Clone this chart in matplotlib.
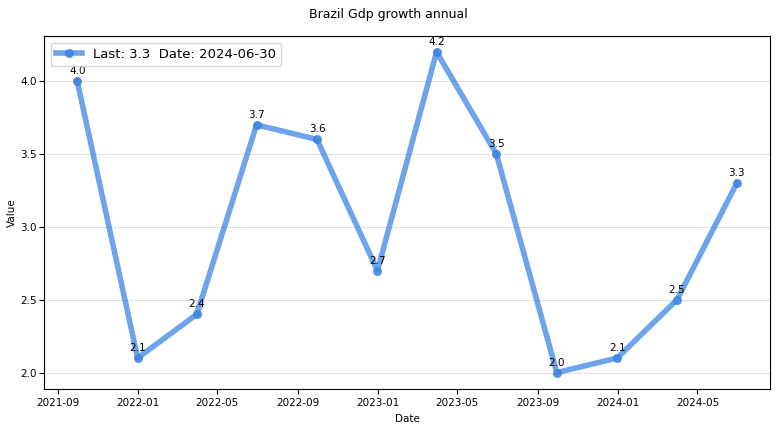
import matplotlib
matplotlib.use("Agg")
import matplotlib.pyplot as plt
import pandas as pd

dates = pd.to_datetime(["2021-09-30", "2021-12-31", "2022-03-31", "2022-06-30",
                        "2022-09-30", "2022-12-31", "2023-03-31", "2023-06-30",
                        "2023-09-30", "2023-12-31", "2024-03-31", "2024-06-30"])
values = [4.0, 2.1, 2.4, 3.7, 3.6, 2.7, 4.2, 3.5, 2.0, 2.1, 2.5, 3.3]
title = "Brazil Gdp growth annual"

fig, ax = plt.subplots(figsize=(7.76, 4.28), dpi=100)
fig.subplots_adjust(left=0.057, right=0.992, top=0.916, bottom=0.092)

label = "Last: %.1f  Date: %s" % (values[-1], dates[-1].strftime("%Y-%m-%d"))
ax.plot(dates, values, color="#4a8ee6", alpha=0.8, linewidth=4,
        marker="o", markersize=5.5, markerfacecolor="#3b82e0",
        markeredgecolor="#3b82e0", label=label)

for d, v in zip(dates, values):
    ax.annotate("%.1f" % v, (d, v), textcoords="offset points", xytext=(0, 5),
                ha="center", fontsize=7.5)

ax.grid(axis="y", color="#e0e0e0", linewidth=0.8)
ax.set_axisbelow(True)
ax.tick_params(labelsize=7.5)
ax.tick_params(axis="y", pad=2)
ax.set_xlabel("Date", fontsize=7.5)
ax.set_ylabel("Value", fontsize=7.5, labelpad=2)
fig.suptitle(title, fontsize=9, y=0.982)
ax.legend(loc="upper left", fontsize=9.5)

fig.savefig("out.png", dpi=100)
